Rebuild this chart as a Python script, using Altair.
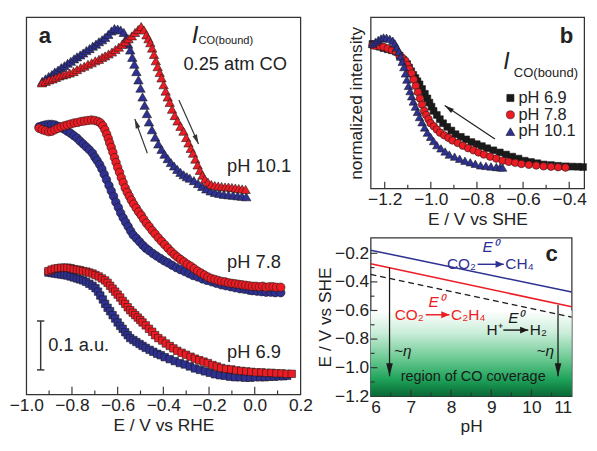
import altair as alt
import pandas as pd

FONT = "Liberation Sans"
RED = "#ED1C24"
BLUE = "#2E3192"
BLACK = "#1a1a1a"
INK = "#222222"
EDGE = "#1a1a1a"

# ======================= Panel a data (E vs RHE, offset intensity in a.u.) =======================
a101_red = [(-0.931,0.637),(-0.915,0.640),(-0.900,0.643),(-0.885,0.645),(-0.870,0.648),(-0.855,0.651),
            (-0.840,0.653),(-0.825,0.655),(-0.810,0.657),(-0.793,0.660),(-0.778,0.664),(-0.762,0.668),
            (-0.746,0.671),(-0.730,0.675),(-0.714,0.678),(-0.698,0.682),(-0.682,0.685),(-0.668,0.689),
            (-0.655,0.692),(-0.640,0.696),(-0.625,0.700),(-0.610,0.705),(-0.595,0.710),(-0.580,0.716),
            (-0.566,0.721),(-0.552,0.727),(-0.538,0.733),(-0.524,0.740),(-0.510,0.746),(-0.497,0.752),
            (-0.485,0.745),(-0.474,0.735),(-0.465,0.727),(-0.457,0.719),(-0.449,0.708),(-0.441,0.695),
            (-0.433,0.682),(-0.425,0.670),(-0.416,0.658),(-0.408,0.647),(-0.399,0.633),(-0.390,0.620),
            (-0.381,0.608),(-0.372,0.597),(-0.362,0.583),(-0.350,0.570),(-0.338,0.559),(-0.325,0.548),
            (-0.312,0.538),(-0.300,0.525),(-0.290,0.514),(-0.280,0.503),(-0.270,0.493),(-0.260,0.481),
            (-0.250,0.469),(-0.240,0.458),(-0.229,0.448),(-0.218,0.440),(-0.205,0.434),(-0.190,0.429),
            (-0.175,0.427),(-0.160,0.426),(-0.145,0.425),(-0.130,0.424),(-0.115,0.424),(-0.100,0.423),
            (-0.085,0.422),(-0.070,0.421),(-0.055,0.420),(-0.040,0.419)]
a101_blue = [(-0.930,0.640),(-0.916,0.645),(-0.902,0.650),(-0.888,0.654),(-0.875,0.659),(-0.861,0.663),
             (-0.847,0.668),(-0.833,0.672),(-0.819,0.677),(-0.805,0.681),(-0.791,0.686),(-0.778,0.690),
             (-0.764,0.694),(-0.751,0.698),(-0.737,0.703),(-0.723,0.707),(-0.709,0.712),(-0.695,0.716),
             (-0.682,0.721),(-0.668,0.725),(-0.655,0.730),(-0.641,0.736),(-0.627,0.743),(-0.614,0.748),
             (-0.600,0.747),(-0.587,0.745),(-0.573,0.740),(-0.563,0.728),(-0.554,0.716),(-0.545,0.704),
             (-0.536,0.689),(-0.527,0.675),(-0.518,0.660),(-0.509,0.643),(-0.500,0.626),(-0.491,0.608),
             (-0.482,0.591),(-0.472,0.574),(-0.463,0.557),(-0.450,0.541),(-0.436,0.526),(-0.422,0.512),
             (-0.408,0.501),(-0.395,0.491),(-0.381,0.482),(-0.367,0.474),(-0.353,0.467),(-0.339,0.460),
             (-0.325,0.454),(-0.311,0.449),(-0.297,0.445),(-0.284,0.442),(-0.266,0.437),(-0.248,0.431),
             (-0.230,0.425),(-0.212,0.420),(-0.193,0.416),(-0.174,0.413),(-0.155,0.411),(-0.135,0.409),
             (-0.115,0.408),(-0.095,0.407),(-0.075,0.406),(-0.056,0.405),(-0.037,0.404)]
a78_red = [(-0.944,0.544),(-0.930,0.541),(-0.916,0.539),(-0.902,0.537),(-0.889,0.538),(-0.875,0.541),
           (-0.861,0.544),(-0.847,0.547),(-0.833,0.549),(-0.820,0.551),(-0.805,0.553),(-0.790,0.555),
           (-0.775,0.556),(-0.760,0.558),(-0.745,0.559),(-0.730,0.560),(-0.715,0.561),(-0.700,0.560),
           (-0.686,0.558),(-0.675,0.555),(-0.665,0.549),(-0.656,0.541),(-0.648,0.532),(-0.641,0.523),
           (-0.635,0.514),(-0.628,0.505),(-0.621,0.495),(-0.614,0.484),(-0.607,0.474),(-0.600,0.464),
           (-0.592,0.454),(-0.584,0.443),(-0.576,0.433),(-0.567,0.422),(-0.558,0.413),(-0.549,0.405),
           (-0.540,0.397),(-0.530,0.389),(-0.519,0.381),(-0.508,0.373),(-0.497,0.366),(-0.486,0.358),
           (-0.474,0.350),(-0.462,0.343),(-0.449,0.335),(-0.436,0.328),(-0.422,0.320),(-0.408,0.313),
           (-0.394,0.306),(-0.380,0.299),(-0.366,0.292),(-0.352,0.286),(-0.339,0.281),(-0.325,0.276),
           (-0.310,0.271),(-0.295,0.266),(-0.280,0.262),(-0.265,0.257),(-0.250,0.252),(-0.235,0.248),
           (-0.220,0.244),(-0.205,0.240),(-0.190,0.237),(-0.175,0.235),(-0.160,0.233),(-0.145,0.231),
           (-0.130,0.230),(-0.115,0.228),(-0.100,0.227),(-0.085,0.226),(-0.070,0.225),(-0.055,0.224),
           (-0.040,0.223),(-0.025,0.222),(-0.010,0.221),(0.005,0.221),(0.020,0.220),(0.035,0.221),
           (0.050,0.219),(0.065,0.220),(0.080,0.220),(0.095,0.219),(0.114,0.219)]
a78_blue = [(-0.944,0.547),(-0.930,0.549),(-0.916,0.551),(-0.902,0.552),(-0.889,0.552),(-0.875,0.551),
            (-0.861,0.548),(-0.847,0.545),(-0.833,0.542),(-0.820,0.538),(-0.806,0.534),(-0.792,0.529),
            (-0.778,0.524),(-0.765,0.518),(-0.751,0.512),(-0.737,0.506),(-0.724,0.500),(-0.710,0.493),
            (-0.700,0.485),(-0.690,0.478),(-0.679,0.470),(-0.669,0.461),(-0.659,0.450),(-0.649,0.439),
            (-0.638,0.427),(-0.628,0.416),(-0.618,0.405),(-0.608,0.393),(-0.597,0.382),(-0.587,0.371),
            (-0.576,0.361),(-0.565,0.352),(-0.554,0.343),(-0.543,0.334),(-0.532,0.326),(-0.518,0.319),
            (-0.504,0.312),(-0.490,0.305),(-0.477,0.299),(-0.463,0.294),(-0.446,0.288),(-0.430,0.283),
            (-0.413,0.278),(-0.397,0.273),(-0.380,0.269),(-0.362,0.264),(-0.343,0.259),(-0.325,0.255),
            (-0.306,0.251),(-0.288,0.247),(-0.270,0.243),(-0.250,0.240),(-0.229,0.236),(-0.209,0.233),
            (-0.188,0.230),(-0.168,0.227),(-0.147,0.224),(-0.127,0.222),(-0.106,0.220),(-0.086,0.218),
            (-0.065,0.216),(-0.045,0.215),(-0.024,0.213),(-0.010,0.212),(0.010,0.211),(0.030,0.210),
            (0.050,0.209),(0.070,0.209),(0.090,0.208),(0.114,0.208)]
a69_red = [(-0.903,0.252),(-0.889,0.255),(-0.875,0.257),(-0.861,0.258),(-0.847,0.259),(-0.833,0.259),
           (-0.820,0.259),(-0.806,0.258),(-0.792,0.256),(-0.778,0.255),(-0.765,0.254),(-0.751,0.252),
           (-0.737,0.251),(-0.724,0.249),(-0.710,0.247),(-0.697,0.244),(-0.683,0.241),(-0.669,0.237),
           (-0.655,0.233),(-0.644,0.228),(-0.633,0.222),(-0.622,0.216),(-0.611,0.210),(-0.600,0.204),
           (-0.589,0.198),(-0.578,0.191),(-0.567,0.185),(-0.556,0.178),(-0.545,0.172),(-0.534,0.167),
           (-0.523,0.162),(-0.512,0.157),(-0.501,0.152),(-0.491,0.147),(-0.477,0.141),(-0.463,0.134),
           (-0.449,0.128),(-0.436,0.121),(-0.422,0.115),(-0.405,0.110),(-0.389,0.104),(-0.372,0.099),
           (-0.356,0.094),(-0.339,0.089),(-0.320,0.085),(-0.301,0.081),(-0.281,0.077),(-0.262,0.073),
           (-0.243,0.070),(-0.224,0.067),(-0.205,0.064),(-0.185,0.060),(-0.166,0.057),(-0.147,0.054),
           (-0.125,0.052),(-0.103,0.051),(-0.081,0.049),(-0.059,0.048),(-0.037,0.047),(-0.015,0.046),
           (0.007,0.045),(0.029,0.045),(0.051,0.044),(0.073,0.044),(0.095,0.043),(0.117,0.043),
           (0.140,0.042),(0.162,0.042)]
a69_blue = [(-0.903,0.249),(-0.889,0.248),(-0.875,0.247),(-0.861,0.246),(-0.847,0.245),(-0.833,0.244),
            (-0.820,0.243),(-0.806,0.241),(-0.792,0.239),(-0.778,0.237),(-0.765,0.235),(-0.751,0.233),
            (-0.738,0.230),(-0.724,0.226),(-0.710,0.222),(-0.697,0.217),(-0.686,0.210),(-0.676,0.202),
            (-0.665,0.194),(-0.655,0.185),(-0.644,0.177),(-0.633,0.170),(-0.622,0.162),(-0.611,0.155),
            (-0.600,0.147),(-0.589,0.140),(-0.578,0.134),(-0.567,0.127),(-0.556,0.121),(-0.545,0.115),
            (-0.531,0.111),(-0.518,0.107),(-0.504,0.103),(-0.491,0.099),(-0.477,0.095),(-0.460,0.091),
            (-0.444,0.087),(-0.427,0.083),(-0.411,0.080),(-0.394,0.076),(-0.372,0.072),(-0.350,0.068),
            (-0.328,0.064),(-0.306,0.061),(-0.284,0.057),(-0.262,0.053),(-0.240,0.050),(-0.218,0.047),
            (-0.196,0.044),(-0.174,0.041),(-0.152,0.039),(-0.130,0.038),(-0.108,0.036),(-0.086,0.035),
            (-0.064,0.035),(-0.042,0.034),(-0.020,0.034),(0.002,0.035),(0.024,0.035),(0.045,0.035),
            (0.065,0.036),(0.085,0.036),(0.105,0.037),(0.125,0.037),(0.142,0.038)]

a_tick_labels = [-1.0, -0.8, -0.6, -0.4, -0.2, 0.0, 0.2]
a_tick_major = [-0.8, -0.6, -0.4, -0.2, 0.0]
a_tick_minor = [-0.9, -0.7, -0.5, -0.3, -0.1, 0.1]

a_texts = [(-0.121, 0.467, "pH 10.1"), (-0.121, 0.271, "pH 7.8"), (-0.121, 0.0865, "pH 6.9"),
           (-0.312, 0.676, "0.25 atm CO"), (-0.904, 0.100, "0.1 a.u.")]
a_Ilabel = (-0.276, 0.735)
a_sub = (-0.246, 0.723)
a_letter = (-0.918, 0.733)
a_scalebar = (-0.937, 0.050, 0.150)      # E, bottom, top
a_scalecaps = (-0.953, -0.921)
a_arrow_blue = (-0.470, 0.493, -0.525, 0.563)   # tail E, tail I, head E, head I
a_arrow_red = (-0.332, 0.602, -0.246, 0.512)

# ======================= Panel b data (E vs SHE, normalized) =======================
b_black = [(-1.253,1.030),(-1.237,1.020),(-1.221,1.010),(-1.205,1.000),(-1.187,0.992),(-1.169,0.985),
           (-1.151,0.975),(-1.135,0.946),(-1.119,0.916),(-1.103,0.887),(-1.094,0.861),(-1.085,0.835),
           (-1.076,0.809),(-1.067,0.787),(-1.058,0.764),(-1.049,0.742),(-1.038,0.709),(-1.026,0.675),
           (-1.015,0.642),(-1.006,0.612),(-0.997,0.583),(-0.988,0.553),(-0.974,0.524),(-0.961,0.494),
           (-0.947,0.465),(-0.929,0.439),(-0.911,0.413),(-0.893,0.387),(-0.870,0.368),(-0.847,0.350),
           (-0.824,0.331),(-0.801,0.316),(-0.779,0.302),(-0.756,0.287),(-0.729,0.272),(-0.701,0.257),
           (-0.674,0.242),(-0.647,0.227),(-0.620,0.213),(-0.593,0.198),(-0.566,0.189),(-0.538,0.180),
           (-0.511,0.171),(-0.479,0.167),(-0.448,0.162),(-0.416,0.158),(-0.389,0.156),(-0.362,0.155),
           (-0.340,0.153)]
b_red = [(-1.253,1.020),(-1.237,1.016),(-1.221,1.013),(-1.205,1.009),(-1.187,0.998),(-1.169,0.987),
         (-1.151,0.975),(-1.137,0.953),(-1.124,0.931),(-1.110,0.909),(-1.101,0.879),(-1.092,0.850),
         (-1.083,0.820),(-1.074,0.776),(-1.065,0.731),(-1.056,0.687),(-1.047,0.642),(-1.038,0.598),
         (-1.029,0.553),(-1.020,0.524),(-1.010,0.494),(-1.001,0.465),(-0.987,0.443),(-0.974,0.420),
         (-0.960,0.398),(-0.942,0.379),(-0.924,0.361),(-0.906,0.342),(-0.883,0.324),(-0.861,0.305),
         (-0.838,0.287),(-0.815,0.272),(-0.793,0.257),(-0.770,0.242),(-0.743,0.227),(-0.716,0.213),
         (-0.689,0.198),(-0.662,0.190),(-0.634,0.183),(-0.607,0.175),(-0.575,0.169),(-0.543,0.164),
         (-0.511,0.158),(-0.479,0.155),(-0.448,0.152),(-0.416,0.149)]
b_blue = [(-1.253,1.031),(-1.240,1.045),(-1.228,1.058),(-1.216,1.069),(-1.205,1.076),(-1.192,1.074),
          (-1.178,1.066),(-1.165,1.053),(-1.156,1.033),(-1.147,1.005),(-1.138,0.975),(-1.131,0.940),
          (-1.124,0.903),(-1.117,0.865),(-1.110,0.820),(-1.104,0.776),(-1.097,0.731),(-1.090,0.694),
          (-1.083,0.657),(-1.076,0.620),(-1.067,0.583),(-1.058,0.546),(-1.049,0.509),(-1.038,0.472),
          (-1.027,0.435),(-1.015,0.398),(-1.001,0.368),(-0.988,0.338),(-0.974,0.309),(-0.956,0.286),
          (-0.938,0.264),(-0.920,0.242),(-0.897,0.227),(-0.875,0.212),(-0.852,0.198),(-0.829,0.187),
          (-0.807,0.176),(-0.784,0.165),(-0.761,0.161),(-0.739,0.157),(-0.716,0.153),(-0.700,0.151),
          (-0.689,0.149)]

b_tick_labels = [-1.2, -1.0, -0.8, -0.6, -0.4]
b_tick_major = [-1.2, -1.0, -0.8, -0.6, -0.4]
b_tick_minor = [-1.1, -0.9, -0.7, -0.5]

b_legend_E = -0.655
b_legend_text_E = -0.620
b_legend_rows = [(0.645, "pH 6.9"), (0.525, "pH 7.8"), (0.405, "pH 10.1")]
b_Ilabel = (-0.686, 0.900)
b_sub = (-0.640, 0.825)
b_letter = (-0.412, 1.087)
b_arrow = (-0.722, 0.353, -0.940, 0.591)

# ======================= Panel c data (E0 vs pH) =======================
c_pH_ends = [6, 11]
c_ch4 = [-0.178, -0.471]
c_c2h4 = [-0.273, -0.574]
c_h2 = [-0.347, -0.647]
c_region = (-0.60, -1.20)
c_eta_arrows = [(6.47, -0.300, -1.060), (10.66, -0.561, -1.060)]
c_tick_labels_x = [6, 7, 8, 9, 10, 11]
c_tick_labels_y = [-1.2, -1.0, -0.8, -0.6, -0.4, -0.2]
c_xt_major = [7, 8, 9, 10]
c_xt_minor = [6.5, 7.5, 8.5, 9.5, 10.5]
c_yt_major = [-1.0, -0.8, -0.6, -0.4, -0.2]
c_yt_minor = [-1.1, -0.9, -0.7, -0.5, -0.3]

# ======================= sizes =======================
WA, HA = 285, 392
WC, HC = 209, 165
WB, HB = WC + 13, 178
LBL = 18   # tick label font size
TTL = 18   # axis title font size

def df_pairs(pairs, cx, cy):
    return pd.DataFrame(pairs, columns=[cx, cy])

ARROW = "M0,0L0.33,1.3L-0.33,1.3Z"
CHEM_ARROW = "M0,0L0.55,1.3L-0.55,1.3Z"

# ======================= Panel a =======================
xa_scale = alt.Scale(domain=[-1.0, 0.2], nice=False, zero=False)
ya_scale = alt.Scale(domain=[0, 0.771], nice=False, zero=False)
xa_axis = alt.Axis(values=a_tick_labels, format=".1f", ticks=False, domain=False, grid=False,
                   labelFlush=False, labelPadding=3, title="E / V vs RHE", titlePadding=3)

def XA(f="E"):
    return alt.X(f"{f}:Q", scale=xa_scale, axis=xa_axis)

def YA(f="I"):
    return alt.Y(f"{f}:Q", scale=ya_scale, axis=None)

def pts_a(pairs, shape, color, size):
    return alt.Chart(df_pairs(pairs, "E", "I")).mark_point(
        shape=shape, filled=True, fill=color, stroke=EDGE, strokeWidth=0.6, size=size, opacity=1
    ).encode(x=XA(), y=YA())

def arrow_a(spec, angle):
    e1, i1, e2, i2 = spec
    d = pd.DataFrame({"E": [e1], "I": [i1], "E2": [e2], "I2": [i2]})
    line = alt.Chart(d).mark_rule(color="#333", strokeWidth=1.2).encode(
        x=XA(), y=YA(), x2="E2:Q", y2="I2:Q")
    head = alt.Chart(d).mark_point(shape=ARROW, filled=True, fill="#333", size=230, angle=angle,
                                   opacity=1).encode(x=XA("E2"), y=YA("I2"))
    return [line, head]

ticks_a = [
    alt.Chart(pd.DataFrame({"E": a_tick_major})).mark_rule(color="#333", strokeWidth=1.2).encode(
        x=XA(), y=alt.value(HA), y2=alt.value(HA - 8)),
    alt.Chart(pd.DataFrame({"E": a_tick_minor})).mark_rule(color="#333", strokeWidth=1.2).encode(
        x=XA(), y=alt.value(HA), y2=alt.value(HA - 4)),
]

a_txt = alt.Chart(pd.DataFrame(a_texts, columns=["E", "I", "t"])).mark_text(
    align="left", baseline="middle", font=FONT, fontSize=19, color=INK).encode(x=XA(), y=YA(), text="t:N")
a_I = alt.Chart(pd.DataFrame([a_Ilabel], columns=["E", "I"])).mark_text(
    align="left", baseline="middle", font=FONT, fontSize=25, fontStyle="italic", color=INK, text="I"
).encode(x=XA(), y=YA())
a_S = alt.Chart(pd.DataFrame([a_sub], columns=["E", "I"])).mark_text(
    align="left", baseline="middle", font=FONT, fontSize=11.5, color=INK, text="CO(bound)"
).encode(x=XA(), y=YA())
a_L = alt.Chart(pd.DataFrame([a_letter], columns=["E", "I"])).mark_text(
    align="center", baseline="middle", font=FONT, fontSize=23, fontWeight="bold", color=INK, text="a"
).encode(x=XA(), y=YA())

sb = pd.DataFrame({"E": [a_scalebar[0]], "I": [a_scalebar[1]], "I2": [a_scalebar[2]]})
caps = pd.DataFrame({"E": [a_scalecaps[0]] * 2, "E2": [a_scalecaps[1]] * 2,
                     "I": [a_scalebar[1], a_scalebar[2]]})
a_sb = alt.Chart(sb).mark_rule(color="#333", strokeWidth=1.5).encode(x=XA(), y=YA(), y2="I2:Q")
a_caps = alt.Chart(caps).mark_rule(color="#333", strokeWidth=1.5).encode(x=XA(), x2="E2:Q", y=YA())

panel_a = alt.layer(
    *ticks_a,
    pts_a(a101_blue, "triangle-up", BLUE, 95),
    pts_a(a101_red, "triangle-up", RED, 95),
    pts_a(a78_blue, "circle", BLUE, 78),
    pts_a(a78_red, "circle", RED, 78),
    pts_a(a69_blue, "square", BLUE, 60),
    pts_a(a69_red, "square", RED, 60),
    *arrow_a(a_arrow_blue, 340),
    *arrow_a(a_arrow_red, 156),
    a_sb, a_caps, a_txt, a_I, a_S, a_L,
).properties(width=WA, height=HA)

# ======================= Panel b =======================
xb_scale = alt.Scale(domain=[-1.261, -0.335], nice=False, zero=False)
yb_scale = alt.Scale(domain=[0, 1.22], nice=False, zero=False)
xb_axis = alt.Axis(values=b_tick_labels, format=".1f", ticks=False, domain=False, grid=False,
                   labelFlush=False, labelPadding=3, title="E / V vs SHE", titlePadding=2)
# invisible labels only reserve room so the panel sits where the reference has it
yb_axis = alt.Axis(values=[0.6], labelExpr="'00'", labelOpacity=0, ticks=False, domain=False,
                   grid=False, labelPadding=2, title="normalized intensity", titleX=-6)

def XB(f="E"):
    return alt.X(f"{f}:Q", scale=xb_scale, axis=xb_axis)

def YB(f="I"):
    return alt.Y(f"{f}:Q", scale=yb_scale, axis=yb_axis)

def pts_b(pairs, shape, color, size):
    return alt.Chart(df_pairs(pairs, "E", "I")).mark_point(
        shape=shape, filled=True, fill=color, stroke=EDGE, strokeWidth=0.6, size=size, opacity=1
    ).encode(x=XB(), y=YB())

ticks_b = [
    alt.Chart(pd.DataFrame({"E": b_tick_major})).mark_rule(color="#333", strokeWidth=1.2).encode(
        x=XB(), y=alt.value(HB), y2=alt.value(HB - 7)),
    alt.Chart(pd.DataFrame({"E": b_tick_minor})).mark_rule(color="#333", strokeWidth=1.2).encode(
        x=XB(), y=alt.value(HB), y2=alt.value(HB - 4)),
]

leg_shapes = [("square", BLACK, 55), ("circle", RED, 70), ("triangle-up", BLUE, 85)]
b_leg = []
for (yy, txt), (shape, col, sz) in zip(b_legend_rows, leg_shapes):
    d = pd.DataFrame({"E": [b_legend_E], "I": [yy]})
    b_leg.append(alt.Chart(d).mark_point(shape=shape, filled=True, fill=col, stroke=EDGE,
                                         strokeWidth=0.6, size=sz, opacity=1).encode(x=XB(), y=YB()))
b_leg_txt = alt.Chart(pd.DataFrame({"E": [b_legend_text_E] * 3, "I": [r[0] for r in b_legend_rows],
                                    "t": [r[1] for r in b_legend_rows]})).mark_text(
    align="left", baseline="middle", font=FONT, fontSize=17, color=INK).encode(x=XB(), y=YB(), text="t:N")
b_I = alt.Chart(pd.DataFrame([b_Ilabel], columns=["E", "I"])).mark_text(
    align="left", baseline="middle", font=FONT, fontSize=24, fontStyle="italic", color=INK, text="I"
).encode(x=XB(), y=YB())
b_S = alt.Chart(pd.DataFrame([b_sub], columns=["E", "I"])).mark_text(
    align="left", baseline="middle", font=FONT, fontSize=13.5, color=INK, text="CO(bound)"
).encode(x=XB(), y=YB())
b_L = alt.Chart(pd.DataFrame([b_letter], columns=["E", "I"])).mark_text(
    align="center", baseline="middle", font=FONT, fontSize=23, fontWeight="bold", color=INK, text="b"
).encode(x=XB(), y=YB())
bd = pd.DataFrame({"E": [b_arrow[0]], "I": [b_arrow[1]], "E2": [b_arrow[2]], "I2": [b_arrow[3]]})
b_arr_line = alt.Chart(bd).mark_rule(color="#222", strokeWidth=1.3).encode(x=XB(), y=YB(), x2="E2:Q", y2="I2:Q")
b_arr_head = alt.Chart(bd).mark_point(shape=ARROW, filled=True, fill="#222", size=230, angle=305,
                                      opacity=1).encode(x=XB("E2"), y=YB("I2"))

panel_b = alt.layer(
    *ticks_b,
    pts_b(b_black, "square", BLACK, 50),
    pts_b(b_red, "circle", RED, 62),
    pts_b(b_blue, "triangle-up", BLUE, 78),
    *b_leg, b_leg_txt, b_I, b_S, b_L, b_arr_line, b_arr_head,
).properties(width=WB, height=HB)

# ======================= Panel c =======================
xc_scale = alt.Scale(domain=[6, 11], nice=False, zero=False)
yc_scale = alt.Scale(domain=[-1.2, -0.09], nice=False, zero=False)
xc_axis = alt.Axis(values=c_tick_labels_x, format="d", ticks=False, domain=False, grid=False,
                   labelFlush=True, labelPadding=3, title="pH", titlePadding=2)
yc_axis = alt.Axis(values=c_tick_labels_y, format=".1f", ticks=False, domain=False, grid=False,
                   labelFlush=False, labelPadding=2, title="E / V vs SHE", titlePadding=0)

def XC(f="pH"):
    return alt.X(f"{f}:Q", scale=xc_scale, axis=xc_axis)

def YC(f="V"):
    return alt.Y(f"{f}:Q", scale=yc_scale, axis=yc_axis)

grad = alt.Gradient(gradient="linear", x1=0, x2=0, y1=0, y2=1, stops=[
    alt.GradientStop(color="#ffffff", offset=0),
    alt.GradientStop(color="#cdeedb", offset=0.25),
    alt.GradientStop(color="#6fcb95", offset=0.55),
    alt.GradientStop(color="#1fa35a", offset=0.8),
    alt.GradientStop(color="#096834", offset=1),
])
rd = pd.DataFrame({"pH": [c_pH_ends[0]], "pH2": [c_pH_ends[1]], "V": [c_region[0]], "V2": [c_region[1]]})
c_rect = alt.Chart(rd).mark_rect(color=grad).encode(x=XC(), x2="pH2:Q", y=YC(), y2="V2:Q")

def cline(vals, color, dash=None, width=1.6):
    d = pd.DataFrame({"pH": c_pH_ends, "V": vals})
    kw = dict(color=color, strokeWidth=width)
    if dash:
        kw["strokeDash"] = dash
    return alt.Chart(d).mark_line(**kw).encode(x=XC(), y=YC())

c_ticks = [
    alt.Chart(pd.DataFrame({"pH": c_xt_major})).mark_rule(color="#333", strokeWidth=1.2).encode(
        x=XC(), y=alt.value(HC), y2=alt.value(HC - 7)),
    alt.Chart(pd.DataFrame({"pH": c_xt_minor})).mark_rule(color="#333", strokeWidth=1.2).encode(
        x=XC(), y=alt.value(HC), y2=alt.value(HC - 4)),
    alt.Chart(pd.DataFrame({"V": c_yt_major})).mark_rule(color="#333", strokeWidth=1.2).encode(
        y=YC(), x=alt.value(0), x2=alt.value(7)),
    alt.Chart(pd.DataFrame({"V": c_yt_minor})).mark_rule(color="#333", strokeWidth=1.2).encode(
        y=YC(), x=alt.value(0), x2=alt.value(4)),
]

ed = pd.DataFrame({"pH": [a[0] for a in c_eta_arrows], "V": [a[1] for a in c_eta_arrows],
                   "V2": [a[2] for a in c_eta_arrows]})
c_eta_line = alt.Chart(ed).mark_rule(color="#1a1a1a", strokeWidth=1.3).encode(x=XC(), y=YC(), y2="V2:Q")
c_eta_head = alt.Chart(ed).mark_point(shape=ARROW, filled=True, fill="#1a1a1a", size=430, angle=180,
                                      opacity=1).encode(x=XC(), y=YC("V2"))

# (left text, right text, colour, text-end pH, arrow start pH, arrow end pH, right-text pH, row E, E0 pH, E0 row)
chem = [
    ("CO\u2082", "CH\u2084", BLUE, 8.62, 8.66, 9.31, 9.35, -0.277, 8.97, -0.156),
    ("CO\u2082", "C\u2082H\u2084", RED, 7.32, 7.37, 7.96, 8.00, -0.630, 7.63, -0.539),
    ("H\u207a", "H\u2082", "#1a1a1a", 9.28, 9.30, 9.92, 9.96, -0.737, 9.61, -0.651),
]
c_chem = []
for lt, rt, col, lx, a0, a1, rx, yy, ex, ey in chem:
    c_chem.append(alt.Chart(pd.DataFrame({"pH": [lx], "V": [yy]})).mark_text(
        align="right", baseline="middle", font=FONT, fontSize=16, color=col, text=lt).encode(x=XC(), y=YC()))
    c_chem.append(alt.Chart(pd.DataFrame({"pH": [rx], "V": [yy]})).mark_text(
        align="left", baseline="middle", font=FONT, fontSize=16, color=col, text=rt).encode(x=XC(), y=YC()))
    ad = pd.DataFrame({"pH": [a0], "pH2": [a1], "V": [yy]})
    c_chem.append(alt.Chart(ad).mark_rule(color=col, strokeWidth=1.5).encode(x=XC(), x2="pH2:Q", y=YC()))
    c_chem.append(alt.Chart(ad).mark_point(shape=CHEM_ARROW, filled=True, fill=col, size=170, angle=90,
                                           opacity=1).encode(x=XC("pH2"), y=YC()))
    c_chem.append(alt.Chart(pd.DataFrame({"pH": [ex], "V": [ey]})).mark_text(
        align="center", baseline="middle", font=FONT, fontSize=16, fontStyle="italic", color=col,
        text="E\u2070").encode(x=XC(), y=YC()))

c_texts = alt.Chart(pd.DataFrame({"pH": [6.80, 10.34], "V": [-0.883, -0.883], "t": ["~\u03b7", "~\u03b7"]})).mark_text(
    align="center", baseline="middle", font=FONT, fontSize=16, fontStyle="italic", color="#1a1a1a"
).encode(x=XC(), y=YC(), text="t:N")
c_region_txt = alt.Chart(pd.DataFrame({"pH": [8.55], "V": [-1.059]})).mark_text(
    align="center", baseline="middle", font=FONT, fontSize=15, color="#1a1a1a", text="region of CO coverage"
).encode(x=XC(), y=YC())
c_L = alt.Chart(pd.DataFrame({"pH": [10.50], "V": [-0.209]})).mark_text(
    align="center", baseline="middle", font=FONT, fontSize=23, fontWeight="bold", color=INK, text="c"
).encode(x=XC(), y=YC())

panel_c = alt.layer(
    c_rect,
    cline(c_ch4, BLUE),
    cline(c_c2h4, RED),
    cline(c_h2, "#1a1a1a", dash=[6, 4], width=1.3),
    *c_ticks,
    c_eta_line, c_eta_head,
    *c_chem, c_texts, c_region_txt, c_L,
).properties(width=WC, height=HC)

right_col = alt.concat(panel_b, panel_c, columns=1, spacing=8, align="none")

chart = alt.hconcat(
    panel_a,
    right_col,
    spacing=2,
).properties(padding=0, background="white").configure_view(
    stroke="#333", strokeWidth=1.3
).configure_axis(
    labelFont=FONT, titleFont=FONT, labelFontSize=LBL, titleFontSize=TTL,
    labelColor=INK, titleColor=INK, titleFontWeight="normal"
)

chart.save("out.html", embed_options={"renderer": "svg", "actions": False})
